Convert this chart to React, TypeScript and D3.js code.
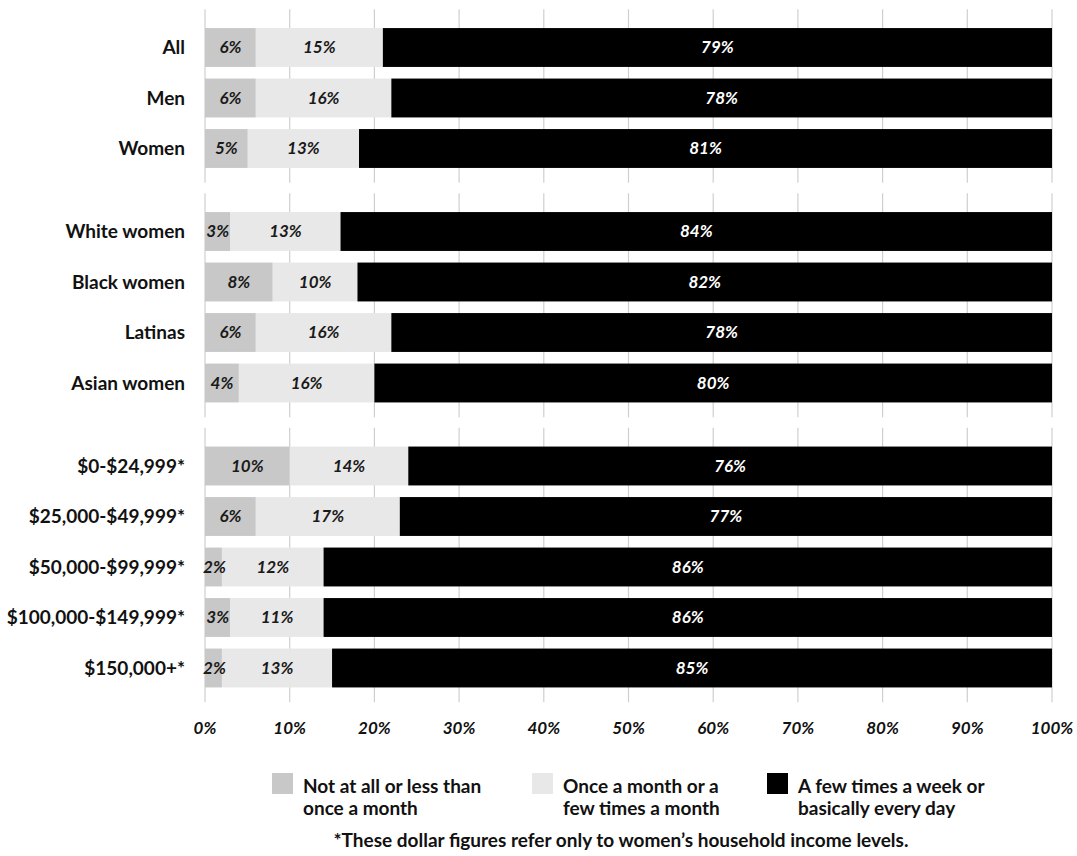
import React from "react";
import * as d3 from "d3";

// Survey response shares (percent) per group
const groupAll = ["All", "Men", "Women"];
const groupRace = ["White women", "Black women", "Latinas", "Asian women"];
const groupIncome = [
  "$0-$24,999*",
  "$25,000-$49,999*",
  "$50,000-$99,999*",
  "$100,000-$149,999*",
  "$150,000+*",
];

const rarely = [6, 6, 5, 3, 8, 6, 4, 10, 6, 2, 3, 2];
const monthly = [15, 16, 13, 13, 10, 16, 16, 14, 17, 12, 11, 13];
const weekly = [79, 78, 81, 84, 82, 78, 80, 76, 77, 86, 86, 85];

const seriesKeys = ["rarely", "monthly", "weekly"];
const seriesLabels = [
  ["Not at all or less than", "once a month"],
  ["Once a month or a", "few times a month"],
  ["A few times a week or", "basically every day"],
];
const seriesColors = ["#c8c8c8", "#e8e8e8", "#000000"];
const labelColors = ["#1a1a1a", "#1a1a1a", "#ffffff"];

const tickValues = [0, 10, 20, 30, 40, 50, 60, 70, 80, 90, 100];
const footnote = "*These dollar figures refer only to women\u2019s household income levels.";

const W = 1077;
const H = 856;
const FONT = "Lato, 'Open Sans', sans-serif";

export default function App() {
  const groups = [groupAll, groupRace, groupIncome];
  const categories = groups.flat();
  const rows = categories.map((c, i) => ({
    category: c,
    rarely: rarely[i],
    monthly: monthly[i],
    weekly: weekly[i],
  }));

  const stack = d3
    .stack<any>()
    .keys(seriesKeys)
    .offset(d3.stackOffsetExpand);
  const stacked = stack(rows);

  const x = d3.scaleLinear().domain([0, 1]).range([205, 1052]);

  // Each group gets its own band scale with a common row step
  const STEP = 50.5;
  const GAP = 32.5;
  let y0 = 22.25;
  const groupScales = groups.map((g) => {
    const scale = d3
      .scaleBand<string>()
      .domain(g)
      .range([y0, y0 + g.length * STEP])
      .paddingInner(0.23)
      .paddingOuter(0.115);
    const extent = [y0 - 13, y0 + g.length * STEP + 9];
    y0 += g.length * STEP + GAP;
    return { scale, extent };
  });
  const yOf = (cat: string) => {
    for (const gs of groupScales) {
      if (gs.scale.domain().includes(cat)) return gs.scale(cat) as number;
    }
    return 0;
  };
  const bw = groupScales[0].scale.bandwidth();

  const legendX = [272, 532, 767];

  return (
    <svg
      width={W}
      height={H}
      style={{ position: "absolute", left: 0, top: 0, background: "#fff" }}
      fontFamily={FONT}
    >
      {/* vertical gridlines, broken between groups */}
      {groupScales.map((gs, gi) =>
        tickValues.map((t) => (
          <line
            key={`g${gi}-${t}`}
            x1={x(t / 100)}
            x2={x(t / 100)}
            y1={gs.extent[0]}
            y2={gs.extent[1]}
            stroke="#cfcfcf"
            strokeWidth={1.2}
          />
        ))
      )}

      {/* stacked bars */}
      {stacked.map((layer, si) =>
        layer.map((seg, ri) => (
          <rect
            key={`${si}-${ri}`}
            x={x(seg[0])}
            y={yOf(categories[ri])}
            width={x(seg[1]) - x(seg[0])}
            height={bw}
            fill={seriesColors[si]}
          />
        ))
      )}

      {/* value labels */}
      {stacked.map((layer, si) =>
        layer.map((seg, ri) => {
          const v = (rows[ri] as any)[seriesKeys[si]];
          const text = `${v}%`;
          const approxW = text.length * 17 * 0.5;
          const cx = Math.max((x(seg[0]) + x(seg[1])) / 2, x(seg[0]) + approxW / 2 + 1);
          return (
            <text
              key={`l${si}-${ri}`}
              x={cx}
              y={yOf(categories[ri]) + bw / 2}
              dy="0.35em"
              textAnchor="middle"
              fontSize={17}
              fontWeight={700}
              fontStyle="italic"
              fill={labelColors[si]}
            >
              {text}
            </text>
          );
        })
      )}

      {/* category labels */}
      {categories.map((c) => (
        <text
          key={c}
          x={185}
          y={yOf(c) + bw / 2}
          dy="0.35em"
          textAnchor="end"
          fontSize={19}
          fontWeight={700}
          fill="#111"
        >
          {c}
        </text>
      ))}

      {/* x-axis tick labels */}
      {tickValues.map((t) => (
        <text
          key={`t${t}`}
          x={x(t / 100)}
          y={734}
          textAnchor="middle"
          fontSize={17}
          fontWeight={700}
          fontStyle="italic"
          fill="#111"
        >
          {`${t}%`}
        </text>
      ))}

      {/* legend */}
      {seriesLabels.map((lines, i) => (
        <g key={`lg${i}`} transform={`translate(${legendX[i]},773)`}>
          <rect width={21} height={21} fill={seriesColors[i]} />
          {lines.map((ln, li) => (
            <text
              key={li}
              x={31}
              y={20 + li * 22}
              fontSize={19}
              fontWeight={700}
              fill="#111"
            >
              {ln}
            </text>
          ))}
        </g>
      ))}

      <text
        x={621}
        y={847}
        textAnchor="middle"
        fontSize={19}
        fontWeight={700}
        fill="#111"
      >
        {footnote}
      </text>
    </svg>
  );
}
